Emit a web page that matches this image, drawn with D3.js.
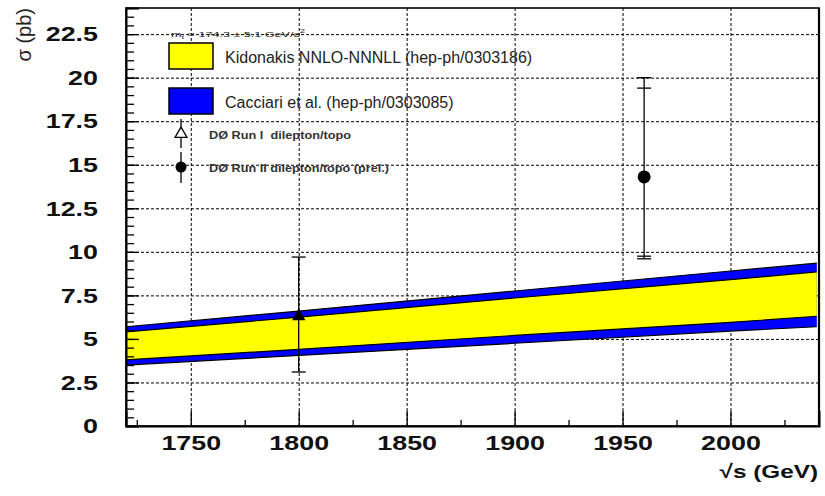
<!DOCTYPE html>
<html>
<head>
<meta charset="utf-8">
<script src="https://cdn.jsdelivr.net/npm/d3@7"></script>
<style>
  body { margin: 0; background: #fff; }
  text { font-family: "Liberation Sans", Arial, Helvetica, sans-serif; }
</style>
</head>
<body>
<script>
// Theory bands: sigma (pb) edges read at a few sqrt(s) points
const sqrtS       = [1720, 1800, 1900, 2000, 2040];
const cacciariHi  = [5.7, 6.6, 7.75, 8.9, 9.35];
const kidonakisHi = [5.4, 6.25, 7.35, 8.4, 8.85];
const kidonakisLo = [3.8, 4.4, 5.2, 5.95, 6.3];
const cacciariLo  = [3.5, 4.05, 4.75, 5.45, 5.7];

// D0 measurements
const runLabels = ["DØ Run I\u00a0 dilepton/topo", "DØ Run II dilepton/topo (prel.)"];
const runEnergy = [1800, 1960];
const runSigma  = [6.3, 14.3];
const runTotLo  = [3.1, 9.6];
const runTotHi  = [9.7, 20.0];
const runStatLo = [3.1, 9.75];
const runStatHi = [9.7, 19.4];

// axis ticks
const xMajor = [1750, 1800, 1850, 1900, 1950, 2000];
const xMinor = [1725, 1775, 1825, 1875, 1925, 1975, 2025];
const yMajor = [0, 2.5, 5, 7.5, 10, 12.5, 15, 17.5, 20, 22.5];
const yMinor = d3.range(0, 24.01, 0.5);

const bandLabels = ["Kidonakis NNLO-NNNLL (hep-ph/0303186)", "Cacciari et al. (hep-ph/0303085)"];
const massLabel = "174.3 \u00b1 5.1 GeV/c";

const w = 825, h = 496;
const SX = 1.28; // wide-looking glyphs of the original
const pLeft = 126, pRight = 819, pTop = 8, pBottom = 426;

const x = d3.scaleLinear().domain([1720, 2041]).range([pLeft, pRight]);
const y = d3.scaleLinear().domain([0, 24]).range([pBottom, pTop]);

const svg = d3.select("body").append("svg")
  .attr("width", w).attr("height", h);

// grid
const grid = svg.append("g")
  .attr("stroke", "#000").attr("stroke-width", 1).attr("stroke-dasharray", "3,2");
grid.selectAll(".gy").data(yMajor.filter(v => v > 0)).enter().append("line")
  .attr("x1", pLeft).attr("x2", pRight)
  .attr("y1", d => y(d) + 0.5).attr("y2", d => y(d) + 0.5);
grid.selectAll(".gx").data(xMajor).enter().append("line")
  .attr("y1", pTop).attr("y2", pBottom)
  .attr("x1", d => x(d) + 0.5).attr("x2", d => x(d) + 0.5);

// bands
const pts = sqrtS.map((s, i) => ({ s, oh: cacciariHi[i], ih: kidonakisHi[i], il: kidonakisLo[i], ol: cacciariLo[i] }));
const area = (lo, hi) => d3.area().x(d => x(d.s)).y0(d => y(d[lo])).y1(d => y(d[hi]));
svg.append("path").datum(pts).attr("d", area("ol", "oh")).attr("fill", "#0000ff");
svg.append("path").datum(pts).attr("d", area("il", "ih")).attr("fill", "#ffff00");
["oh", "ih", "il", "ol"].forEach(k => {
  svg.append("path").datum(pts)
    .attr("d", d3.line().x(d => x(d.s)).y(d => y(d[k])))
    .attr("fill", "none").attr("stroke", "#000").attr("stroke-width", 1.2);
});

// axes
const yAxis = svg.append("g").attr("transform", `translate(${pLeft},0)`)
  .call(d3.axisLeft(y).tickValues(yMajor).tickSize(-13).tickPadding(28)
    .tickFormat(d => d));
yAxis.selectAll("text")
  .attr("font-size", 21).attr("font-weight", "bold").attr("fill", "#111")
  .attr("transform", `scale(${SX},1)`)
  .attr("x", -28 / SX);
svg.append("g").attr("transform", `translate(${pLeft},0)`)
  .call(d3.axisLeft(y).tickValues(yMinor).tickSize(-8).tickFormat(""))
  .select(".domain").remove();

const xAxis = svg.append("g").attr("transform", `translate(0,${pBottom})`)
  .call(d3.axisBottom(x).tickValues(xMajor).tickSize(-15).tickPadding(9)
    .tickFormat(d3.format("d")));
xAxis.selectAll("text")
  .attr("font-size", 21).attr("font-weight", "bold").attr("fill", "#111")
  .attr("transform", `scale(${SX},1)`);
svg.append("g").attr("transform", `translate(0,${pBottom})`)
  .call(d3.axisBottom(x).tickValues(xMinor).tickSize(-6).tickFormat(""))
  .select(".domain").remove();

svg.selectAll(".domain").attr("stroke-width", 2);
svg.selectAll(".tick line").attr("stroke-width", 1.3);

// frame
svg.append("rect")
  .attr("x", pLeft).attr("y", pTop).attr("width", pRight - pLeft).attr("height", pBottom - pTop)
  .attr("fill", "none").attr("stroke", "#000").attr("stroke-width", 1.6);
svg.append("line").attr("x1", pRight).attr("x2", pRight).attr("y1", pTop).attr("y2", pBottom)
  .attr("stroke", "#000").attr("stroke-width", 2.2);

// axis titles
svg.append("text")
  .attr("transform", `translate(31,8) rotate(-90)`)
  .attr("text-anchor", "end").attr("font-size", 20).attr("fill", "#222")
  .text("\u03c3 (pb)");
svg.append("text")
  .attr("transform", `translate(818,478) scale(${SX},1)`)
  .attr("text-anchor", "end").attr("font-size", 19).attr("font-weight", "bold").attr("fill", "#111")
  .text("\u221as (GeV)");

// data points
const data = runEnergy.map((e, i) => ({ e, v: runSigma[i], lo: runTotLo[i], hi: runTotHi[i], slo: runStatLo[i], shi: runStatHi[i], i }));
const pg = svg.append("g").attr("stroke", "#000").attr("stroke-width", 1.3);
pg.selectAll(".bar").data(data).enter().append("line")
  .attr("x1", d => x(d.e)).attr("x2", d => x(d.e))
  .attr("y1", d => y(d.lo)).attr("y2", d => y(d.hi));
const caps = [];
data.forEach(d => {
  caps.push({ e: d.e, v: d.lo }, { e: d.e, v: d.hi });
  if (d.slo !== d.lo) caps.push({ e: d.e, v: d.slo });
  if (d.shi !== d.hi) caps.push({ e: d.e, v: d.shi });
});
pg.selectAll(".cap").data(caps).enter().append("line")
  .attr("x1", d => x(d.e) - 7).attr("x2", d => x(d.e) + 7)
  .attr("y1", d => y(d.v)).attr("y2", d => y(d.v));
svg.append("path")
  .attr("transform", `translate(${x(data[0].e)},${y(data[0].v)})`)
  .attr("d", d3.symbol(d3.symbolTriangle, 55)())
  .attr("fill", "#000").attr("stroke", "#000").attr("stroke-width", 1.2);
svg.append("circle")
  .attr("cx", x(data[1].e)).attr("cy", y(data[1].v)).attr("r", 6.5).attr("fill", "#000");

// legend
const lg = svg.append("g");
lg.append("text").attr("x", 171).attr("y", 37).attr("font-size", 8).attr("fill", "#222")
  .attr("textLength", 134).attr("lengthAdjust", "spacingAndGlyphs")
  .call(t => {
    t.append("tspan").text("m");
    t.append("tspan").attr("font-size", 6).attr("dy", 2).text("t");
    t.append("tspan").attr("dy", -2).text(" = " + massLabel);
    t.append("tspan").attr("font-size", 6).attr("dy", -4).text("2");
  });
[["#ffff00", 43], ["#0000ff", 88]].forEach(([c, yy], i) => {
  lg.append("rect").attr("x", 169).attr("y", yy).attr("width", 44).attr("height", 26)
    .attr("fill", c).attr("stroke", "#000").attr("stroke-width", 1.5);
  lg.append("text").attr("x", 225).attr("y", yy + 20).attr("font-size", 16).attr("fill", "#222")
    .text(bandLabels[i]);
});
lg.append("line").attr("x1", 181).attr("x2", 181).attr("y1", 119).attr("y2", 148)
  .attr("stroke", "#000").attr("stroke-width", 1.3);
lg.append("path").attr("transform", "translate(181,134)")
  .attr("d", d3.symbol(d3.symbolTriangle, 62)())
  .attr("fill", "#fff").attr("stroke", "#000").attr("stroke-width", 1.3);
lg.append("line").attr("x1", 181).attr("x2", 181).attr("y1", 152).attr("y2", 183)
  .attr("stroke", "#000").attr("stroke-width", 1.3);
lg.append("circle").attr("cx", 181).attr("cy", 167).attr("r", 5.5).attr("fill", "#000");
[[139, 142], [172, 180]].forEach(([yy, len], i) => {
  lg.append("text").attr("x", 209).attr("y", yy).attr("font-size", 10).attr("font-weight", "bold")
    .attr("fill", "#333").attr("textLength", len).attr("lengthAdjust", "spacingAndGlyphs")
    .text(runLabels[i]);
});
</script>
</body>
</html>
